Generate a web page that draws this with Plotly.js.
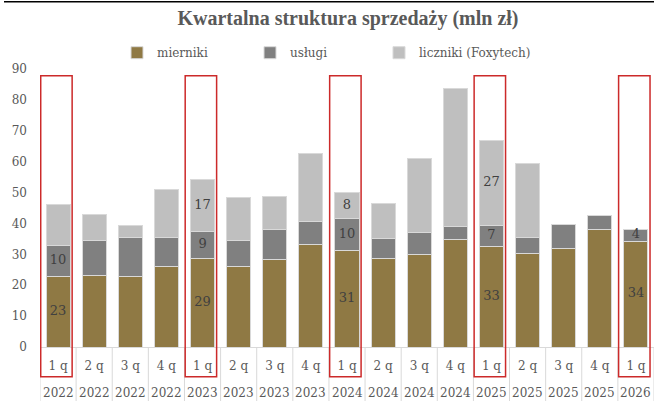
<!DOCTYPE html>
<html>
<head>
<meta charset="utf-8">
<script src="https://cdn.plot.ly/plotly-3.0.1.min.js"></script>
<style>html,body{margin:0;padding:0;background:#fff;}#chart{width:654px;height:401px;}</style>
</head>
<body>
<div id="chart"></div>
<script>
const quarters = ['1 q','2 q','3 q','4 q','1 q','2 q','3 q','4 q','1 q','2 q','3 q','4 q','1 q','2 q','3 q','4 q','1 q'];
const years = ['2022','2022','2022','2022','2023','2023','2023','2023','2024','2024','2024','2024','2025','2025','2025','2025','2026'];
const mierniki = [22.9, 23.2, 22.9, 26.1, 28.8, 26.0, 28.2, 33.2, 31.3, 28.5, 29.8, 34.8, 32.6, 30.3, 32.0, 38.2, 34.2];
const uslugi   = [9.9, 11.4, 12.5, 9.3, 8.7, 8.6, 9.8, 7.3, 10.2, 6.6, 7.4, 4.1, 6.8, 5.0, 7.8, 4.5, 4.0];
const liczniki = [13.4, 8.4, 3.9, 15.5, 16.7, 13.7, 10.7, 22.2, 8.4, 11.3, 23.7, 44.9, 27.4, 24.2, 0, 0, 0];
const seriesNames = ['mierniki', 'usługi', 'liczniki (Foxytech)'];
// quarters highlighted with red frames, and which series carry value labels there
const highlighted = [0, 4, 8, 12, 16];
const labelledMierniki = [0, 4, 8, 12, 16];
const labelledUslugi = [0, 4, 8, 12, 16];
const labelledLiczniki = [4, 8, 12];

const keys = quarters.map((q, i) => q + ' ' + years[i]);
const colors = ['#8f7944', '#808080', '#bfbfbf'];
const serif = 'DejaVu Serif, serif';

const seriesVals = [mierniki, uslugi, liczniki];
const seriesLabels = [labelledMierniki, labelledUslugi, labelledLiczniki];
const legendWidths = [88, 84, 150];

const traces = seriesVals.map((vals, s) => ({
  type: 'bar',
  name: seriesNames[s],
  x: keys,
  y: vals,
  marker: {color: colors[s], line: {color: '#d9d9d9', width: 1}},
  legendwidth: legendWidths[s],
  hoverinfo: 'x+y+name'
}));

// value labels at the middle of each labelled segment
const lx = [], ly = [], lt = [];
const base = keys.map(() => 0);
seriesVals.forEach((vals, s) => {
  vals.forEach((v, i) => {
    if (seriesLabels[s].includes(i)) {
      lx.push(keys[i]); ly.push(base[i] + v / 2); lt.push(String(Math.round(v)));
    }
    base[i] += v;
  });
});
traces.push({
  type: 'scatter', mode: 'text', x: lx, y: ly, text: lt,
  textposition: 'middle center', cliponaxis: false, showlegend: false,
  textfont: {family: serif, size: 13, color: '#404040'}, hoverinfo: 'skip'
});

const pxTop = 69.3, pxBottom = 347.3, plotH = pxBottom - pxTop;
const py = px => (pxBottom - px) / plotH;

const shapes = [];
for (let i = 0; i <= keys.length; i++) {
  shapes.push({type: 'line', xref: 'x', yref: 'paper', x0: i - 0.5, x1: i - 0.5,
    y0: 0, y1: py(402), line: {color: '#d9d9d9', width: 1}});
}
highlighted.forEach(i => {
  shapes.push({type: 'rect', xref: 'x', yref: 'paper', x0: i - 0.48, x1: i + 0.39,
    y0: py(377), y1: py(76), line: {color: '#cc2a2a', width: 1.5}, fillcolor: 'rgba(0,0,0,0)'});
});
shapes.push({type: 'line', xref: 'paper', yref: 'paper', x0: (4 - 40) / 614, x1: 1.01,
  y0: py(2), y1: py(2), line: {color: '#000000', width: 1.5}});

const annotations = keys.map((k, i) => ({
  x: k, xref: 'x', y: py(393), yref: 'paper', yanchor: 'middle', xanchor: 'center',
  text: years[i], showarrow: false, font: {family: serif, size: 12, color: '#595959'}
}));

const layout = {
  width: 654, height: 401,
  margin: {l: 40, r: 0, t: 69, b: 54, pad: 0},
  paper_bgcolor: '#ffffff', plot_bgcolor: '#ffffff',
  barmode: 'stack',
  bargap: 0.335,
  showlegend: true,
  title: {
    text: 'Kwartalna struktura sprzedaży (mln zł)',
    font: {family: 'Liberation Serif, serif', size: 20, color: '#595959', weight: 'bold'},
    x: 348 / 654, xanchor: 'center', y: 1 - 18 / 401, yanchor: 'middle', yref: 'container'
  },
  legend: {
    orientation: 'h', x: (117 - 40) / 614, xanchor: 'left', y: py(53), yanchor: 'middle',
    font: {family: serif, size: 12, color: '#595959'},
    traceorder: 'normal', itemclick: false
  },
  xaxis: {
    type: 'category', tickmode: 'array', tickvals: keys, ticktext: quarters,
    categoryorder: 'array', categoryarray: keys,
    range: [-0.5, keys.length - 0.5], autorange: false,
    tickfont: {family: serif, size: 12, color: '#595959'},
    showgrid: false, showline: true, linecolor: '#d9d9d9', linewidth: 1,
    ticks: '', ticklabelstandoff: 8, zeroline: false, fixedrange: true
  },
  yaxis: {
    range: [0, 90], tickmode: 'linear', tick0: 0, dtick: 10,
    tickfont: {family: serif, size: 12, color: '#595959'},
    showgrid: false, zeroline: false, showline: false, ticks: '', ticklabelstandoff: 12,
    fixedrange: true
  },
  shapes: shapes,
  annotations: annotations
};

Plotly.newPlot('chart', traces, layout, {displayModeBar: false, staticPlot: true});
</script>
</body>
</html>
